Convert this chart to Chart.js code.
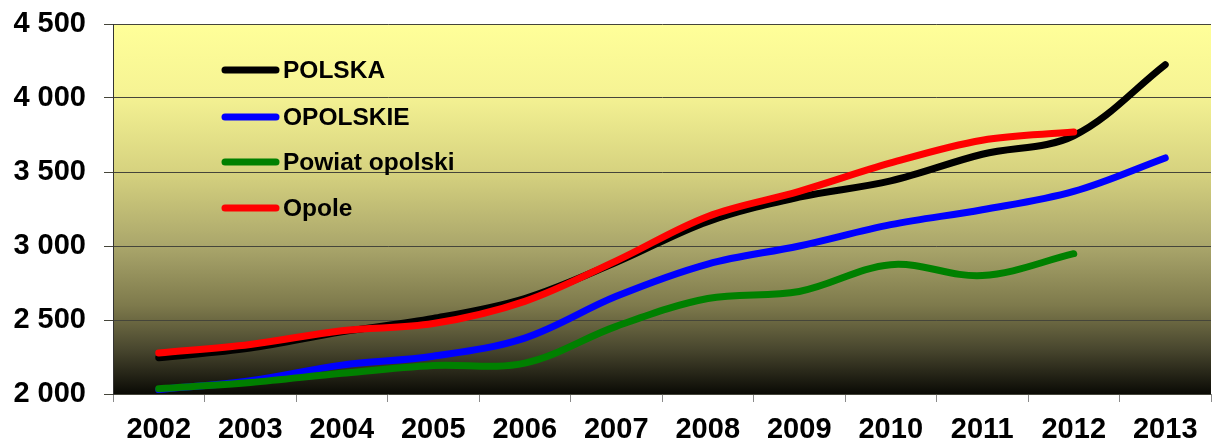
<!DOCTYPE html>
<html>
<head>
<meta charset="utf-8">
<script src="https://cdn.jsdelivr.net/npm/chart.js@4.4.1/dist/chart.umd.min.js"></script>
<style>
    html, body { margin: 0; padding: 0; background: #ffffff; }
    #wrap { width: 1213px; height: 443px; position: relative; }
</style>
</head>
<body>
<div id="wrap"><canvas id="wageChart"></canvas></div>
<script>
(function () {
    'use strict';

    // lata i wartości
    var years = ['2002', '2003', '2004', '2005', '2006', '2007', '2008', '2009', '2010', '2011', '2012', '2013'];
    var polska = [2245, 2310, 2420, 2510, 2645, 2890, 3165, 3330, 3440, 3620, 3745, 4225];
    var opolskie = [2030, 2090, 2195, 2255, 2378, 2660, 2878, 3000, 3144, 3245, 3369, 3595];
    var powiatOpolski = [2036, 2078, 2140, 2193, 2209, 2457, 2645, 2693, 2874, 2800, 2948, null];
    var opole = [2277, 2335, 2428, 2476, 2626, 2900, 3200, 3369, 3561, 3715, 3770, null];
    var yTicks = [2000, 2500, 3000, 3500, 4000, 4500];

    var FONT = '"Liberation Sans", Arial, sans-serif';

    function formatThousands(value) {
        return String(value).replace(/\B(?=(\d{3})+(?!\d))/g, ' ');
    }

    function makeSeries(label, data, color, order) {
        return {
            label: label,
            data: data,
            borderColor: color,
            backgroundColor: color,
            borderWidth: 7,
            borderCapStyle: 'round',
            borderJoinStyle: 'round',
            pointRadius: 0,
            pointHoverRadius: 0,
            tension: 0.35,
            fill: false,
            order: order
        };
    }

    var plotBackground = {
        id: 'plotBackground',
        beforeDraw: function (chart) {
            var area = chart.chartArea;
            var ctx = chart.ctx;
            var grad = ctx.createLinearGradient(0, area.top, 0, area.bottom);
            grad.addColorStop(0, '#ffff99');
            grad.addColorStop(0.18, '#f6f494');
            grad.addColorStop(0.4, '#d6d27f');
            grad.addColorStop(0.6, '#aaa66b');
            grad.addColorStop(0.76, '#7e7a4c');
            grad.addColorStop(0.88, '#48462e');
            grad.addColorStop(1, '#0a0a05');
            ctx.save();
            ctx.fillStyle = grad;
            ctx.fillRect(area.left, area.top, area.right - area.left, area.bottom - area.top);
            ctx.restore();
        }
    };

    var innerLegend = {
        id: 'innerLegend',
        afterDraw: function (chart) {
            var ctx = chart.ctx;
            var rows = [70, 117, 162, 208];
            ctx.save();
            ctx.font = 'bold 24.5px ' + FONT;
            ctx.textBaseline = 'middle';
            ctx.textAlign = 'left';
            chart.data.datasets.forEach(function (ds, i) {
                var y = rows[i];
                ctx.strokeStyle = ds.borderColor;
                ctx.lineWidth = 7;
                ctx.lineCap = 'round';
                ctx.beginPath();
                ctx.moveTo(225, y);
                ctx.lineTo(276, y);
                ctx.stroke();
                ctx.fillStyle = '#000000';
                ctx.fillText(ds.label, 283, y + 1);
            });
            ctx.restore();
        }
    };

    var ctx = document.getElementById('wageChart');

    new Chart(ctx, {
        type: 'line',
        data: {
            labels: years,
            datasets: [
                makeSeries('POLSKA', polska, '#000000', 4),
                makeSeries('OPOLSKIE', opolskie, '#0000ff', 3),
                makeSeries('Powiat opolski', powiatOpolski, '#008000', 2),
                makeSeries('Opole', opole, '#ff0000', 1)
            ]
        },
        options: {
            responsive: true,
            maintainAspectRatio: false,
            animation: false,
            layout: {
                padding: { left: 0, right: 2, top: 24, bottom: 0 }
            },
            scales: {
                x: {
                    type: 'category',
                    offset: true,
                    grid: {
                        offset: true,
                        drawOnChartArea: false,
                        drawTicks: true,
                        tickLength: 8,
                        color: '#8a8a8a',
                        lineWidth: 1
                    },
                    border: { display: false },
                    ticks: {
                        color: '#000000',
                        padding: 11,
                        maxRotation: 0,
                        autoSkip: false,
                        font: { family: FONT, size: 29, weight: 'bold' }
                    },
                    afterFit: function (scale) {
                        scale.height = 49;
                        scale.paddingLeft = 0;
                        scale.paddingRight = 0;
                    }
                },
                y: {
                    min: yTicks[0],
                    max: yTicks[yTicks.length - 1],
                    afterBuildTicks: function (scale) {
                        scale.ticks = yTicks.map(function (v) { return { value: v }; });
                    },
                    grid: {
                        color: '#45453a',
                        lineWidth: 1,
                        drawTicks: true,
                        tickLength: 9
                    },
                    border: { display: true, color: '#333333', width: 1 },
                    ticks: {
                        color: '#000000',
                        padding: 18,
                        font: { family: FONT, size: 29, weight: 'bold' },
                        callback: function (value) {
                            return formatThousands(value);
                        }
                    },
                    afterFit: function (scale) {
                        scale.width = 113;
                        scale.paddingTop = 0;
                        scale.paddingBottom = 0;
                    }
                }
            },
            plugins: {
                legend: { display: false },
                tooltip: { enabled: false }
            }
        },
        plugins: [plotBackground, innerLegend]
    });
})();
</script>
</body>
</html>
